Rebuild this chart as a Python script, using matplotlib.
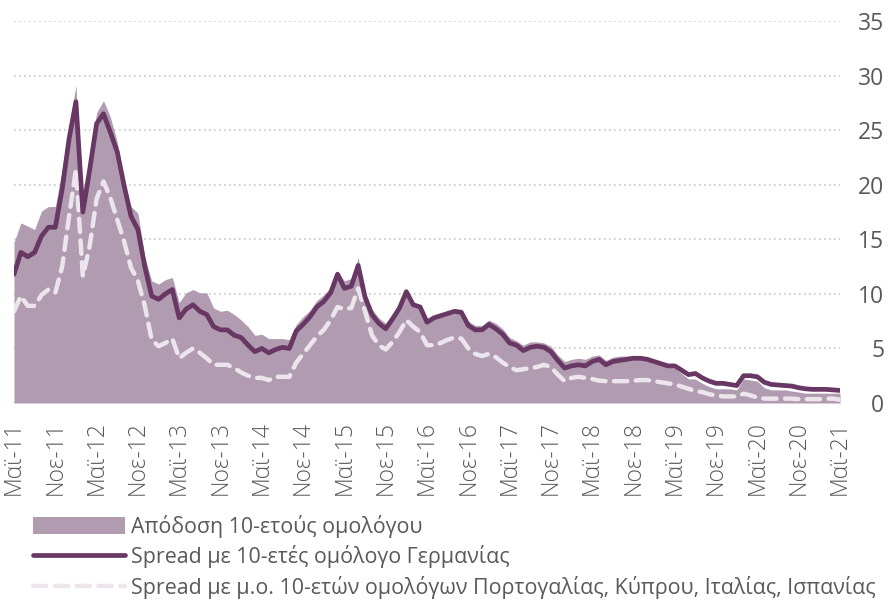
import matplotlib
matplotlib.use("Agg")
import matplotlib.pyplot as plt
from matplotlib import font_manager
from matplotlib.patches import Patch
from matplotlib.lines import Line2D
import numpy as np

# ---------------- data ----------------
tick_labels = ["Μαϊ-11", "Νοε-11", "Μαϊ-12", "Νοε-12", "Μαϊ-13", "Νοε-13", "Μαϊ-14",
               "Νοε-14", "Μαϊ-15", "Νοε-15", "Μαϊ-16", "Νοε-16", "Μαϊ-17", "Νοε-17",
               "Μαϊ-18", "Νοε-18", "Μαϊ-19", "Νοε-19", "Μαϊ-20", "Νοε-20", "Μαϊ-21"]

yield_10y = [14.7, 16.5, 16.2, 15.9, 17.6, 18.0, 18.0, 21.4, 25.4, 29.1,
             18.2, 22.3, 26.6, 27.7, 26.2, 23.9, 20.5, 18.0, 17.4, 13.4,
             11.2, 10.9, 11.3, 11.5, 9.2, 10.1, 10.4, 10.1, 10.1, 8.7,
             8.4, 8.5, 8.1, 7.6, 7.0, 6.2, 6.3, 5.9, 5.9, 5.9,
             5.8, 7.2, 7.9, 8.5, 9.4, 9.9, 10.6, 12.1, 11.2, 11.4,
             13.3, 10.2, 8.6, 7.8, 7.3, 8.2, 9.0, 10.4, 9.2, 9.0,
             7.6, 8.0, 8.2, 8.4, 8.6, 8.6, 7.5, 7.1, 7.1, 7.6,
             7.3, 6.8, 6.0, 5.7, 5.3, 5.6, 5.6, 5.5, 5.2, 4.4,
             3.8, 4.0, 4.1, 4.0, 4.3, 4.4, 3.9, 4.2, 4.3, 4.3,
             4.3, 4.3, 4.2, 3.9, 3.6, 3.3, 3.2, 2.7, 2.2, 2.2,
             1.8, 1.5, 1.3, 1.3, 1.3, 1.2, 2.2, 2.1, 2.0, 1.4,
             1.2, 1.2, 1.2, 1.1, 1.0, 0.9, 0.9, 0.9, 0.9, 0.9,
             0.9]

spread_germany = [11.8, 13.8, 13.4, 13.8, 15.3, 16.1, 16.1, 19.6, 24.2, 27.6,
                  17.5, 21.4, 25.6, 26.5, 24.8, 23.0, 19.9, 17.1, 15.9, 12.5,
                  9.8, 9.5, 10.0, 10.4, 7.8, 8.6, 9.0, 8.4, 8.1, 7.0,
                  6.7, 6.7, 6.2, 6.0, 5.3, 4.7, 5.0, 4.6, 4.9, 5.1,
                  5.0, 6.6, 7.2, 7.9, 8.8, 9.3, 10.1, 11.8, 10.5, 10.7,
                  12.6, 9.7, 8.1, 7.3, 6.8, 7.7, 8.7, 10.2, 9.0, 8.8,
                  7.4, 7.8, 8.0, 8.2, 8.4, 8.3, 7.1, 6.7, 6.7, 7.2,
                  6.8, 6.3, 5.5, 5.3, 4.8, 5.1, 5.2, 5.1, 4.7, 3.9,
                  3.2, 3.4, 3.5, 3.4, 3.8, 4.0, 3.5, 3.8, 3.9, 4.0,
                  4.1, 4.1, 4.0, 3.8, 3.6, 3.4, 3.4, 3.0, 2.6, 2.7,
                  2.3, 2.0, 1.8, 1.8, 1.7, 1.6, 2.5, 2.5, 2.4, 1.9,
                  1.7, 1.65, 1.6, 1.55, 1.4, 1.3, 1.25, 1.25, 1.25, 1.2,
                  1.15]

spread_periphery = [8.4, 9.8, 8.9, 8.9, 9.9, 10.4, 10.1, 12.5, 17.1, 21.4,
                    11.6, 14.4, 18.7, 20.3, 18.8, 16.8, 14.8, 12.4, 11.2, 8.9,
                    5.8, 5.2, 5.5, 5.9, 4.1, 4.6, 5.0, 4.6, 4.1, 3.5,
                    3.5, 3.5, 3.2, 2.8, 2.5, 2.3, 2.3, 2.1, 2.4, 2.4,
                    2.4, 3.7, 4.5, 5.3, 6.1, 6.7, 7.6, 8.8, 8.6, 8.7,
                    10.5, 8.4, 6.2, 5.3, 4.9, 5.6, 6.5, 7.6, 7.0, 6.5,
                    5.3, 5.3, 5.5, 5.8, 6.0, 5.9, 5.0, 4.5, 4.3, 4.5,
                    4.2, 3.7, 3.3, 3.0, 3.1, 3.2, 3.3, 3.5, 3.3, 2.6,
                    2.0, 2.3, 2.4, 2.3, 2.2, 2.05, 2.0, 2.0, 2.0, 2.0,
                    2.05, 2.1, 2.1, 2.0, 1.9, 1.8, 1.7, 1.5, 1.3, 1.1,
                    1.0, 0.8, 0.7, 0.6, 0.6, 0.6, 0.85, 0.7, 0.5, 0.4,
                    0.4, 0.4, 0.4, 0.4, 0.35, 0.35, 0.35, 0.35, 0.4, 0.4,
                    0.3]

legend_labels = ["Απόδοση 10-ετούς ομολόγου",
                 "Spread με 10-ετές ομόλογο Γερμανίας",
                 "Spread με μ.ο. 10-ετών ομολόγων Πορτογαλίας, Κύπρου, Ιταλίας, Ισπανίας"]

# ---------------- style ----------------
available = {f.name for f in font_manager.fontManager.ttflist}
base_font = "Open Sans" if "Open Sans" in available else "DejaVu Sans"
plt.rcParams["font.family"] = [base_font, "DejaVu Sans"]

c_area = "#b09bb0"
c_dark = "#683764"
c_dash = "#ece6ec"
c_text = "#595959"

fig = plt.figure(figsize=(8.95, 6.02), dpi=100)
ax = fig.add_axes([14 / 895, 1 - 403 / 602, 826 / 895, 382 / 602])

x = np.arange(len(yield_10y))
ax.fill_between(x, 0, yield_10y, color=c_area, linewidth=0, zorder=2)
ax.plot(x, spread_periphery, color=c_dash, lw=3.2, dashes=(3.0, 1.9),
        solid_capstyle="round", dash_capstyle="round", zorder=3)
ax.plot(x, spread_germany, color=c_dark, lw=3.4, solid_joinstyle="round",
        solid_capstyle="round", zorder=4)

ax.set_xlim(0, len(x) - 1)
ax.set_ylim(0, 35)
ax.set_yticks(range(0, 36, 5))
ax.grid(axis="y", color="#c8c8c8", linestyle=(0, (1, 2)), linewidth=1.2, zorder=1)
ax.axhline(0, color="#d9d9d9", lw=2.5, zorder=1.5)

for s in ax.spines.values():
    s.set_visible(False)

ax.set_xticks(x[::6])
ax.set_xticklabels(tick_labels, rotation=90, fontsize=16.5, color=c_text,
                   fontweight="light")
ax.tick_params(axis="x", length=0, pad=13)
ax.tick_params(axis="y", left=False, right=False, labelleft=False,
               labelright=True, length=0, pad=32, labelsize=16.5,
               labelcolor=c_text)
for lab in ax.get_yticklabels():
    lab.set_horizontalalignment("right")

handles = [Patch(facecolor=c_area, edgecolor="none"),
           Line2D([0], [0], color=c_dark, lw=3.4, solid_capstyle="round"),
           Line2D([0], [0], color=c_dash, lw=3.2, dashes=(3.0, 1.9),
                  dash_capstyle="round")]
leg = fig.legend(handles, legend_labels, loc="upper left",
                 bbox_to_anchor=(24 / 895, 1 - 506 / 602),
                 frameon=False, handlelength=4.3, handleheight=0.85,
                 handletextpad=0.28, labelspacing=0.36, borderaxespad=0,
                 prop={"family": [base_font, "DejaVu Sans"], "size": 15.4})
for t in leg.get_texts():
    t.set_color(c_text)

fig.savefig("out.png", dpi=100)
